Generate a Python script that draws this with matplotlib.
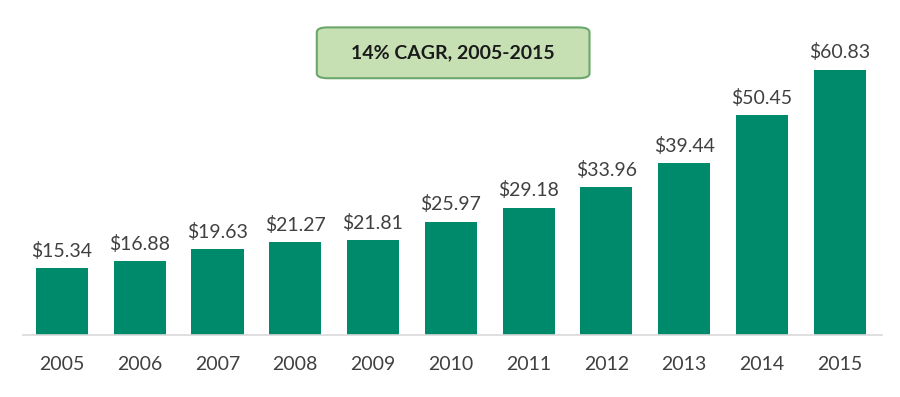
import matplotlib
matplotlib.use("Agg")
import matplotlib.pyplot as plt
from matplotlib.patches import FancyBboxPatch

years = ["2005", "2006", "2007", "2008", "2009", "2010", "2011", "2012", "2013", "2014", "2015"]
values = [15.34, 16.88, 19.63, 21.27, 21.81, 25.97, 29.18, 33.96, 39.44, 50.45, 60.83]
value_labels = ["$15.34", "$16.88", "$19.63", "$21.27", "$21.81", "$25.97", "$29.18", "$33.96", "$39.44", "$50.45", "$60.83"]
title_text = "14% CAGR, 2005-2015"

plt.rcParams['font.family'] = ['Lato', 'DejaVu Sans']

fig = plt.figure(figsize=(9.0, 3.97), dpi=100)
ax = fig.add_axes([0.0256, 0.156, 0.954, 0.844])

x = list(range(len(years)))
bars = ax.bar(x, values, width=0.67, color="#008a6c", zorder=2)
ax.set_xlim(-0.5, 10.54)
ax.set_ylim(0, 76.8)

for xi, v, lab in zip(x, values, value_labels):
    ax.annotate(lab, (xi, v), xytext=(0, 6), textcoords="offset points",
                ha="center", va="bottom", fontsize=14, color="#404040")

ax.set_xticks(x)
ax.set_xticklabels(years, fontsize=14, color="#404040")
ax.tick_params(axis="x", length=0, pad=15)
ax.set_yticks([])
for s in ["top", "right", "left"]:
    ax.spines[s].set_visible(False)
ax.spines["bottom"].set_color("#d9d9d9")
ax.spines["bottom"].set_linewidth(1.2)

box = FancyBboxPatch((0.352, 0.803), 0.303, 0.128, boxstyle="round,pad=0,rounding_size=0.012",
                     transform=fig.transFigure, facecolor="#c6e0b4", edgecolor="#6aa86a",
                     linewidth=1.5)
fig.patches.append(box)
fig.text(0.503, 0.867, title_text, ha="center", va="center", fontsize=14,
         fontweight="bold", color="#1a1a1a")

fig.savefig("out.png", dpi=100)
